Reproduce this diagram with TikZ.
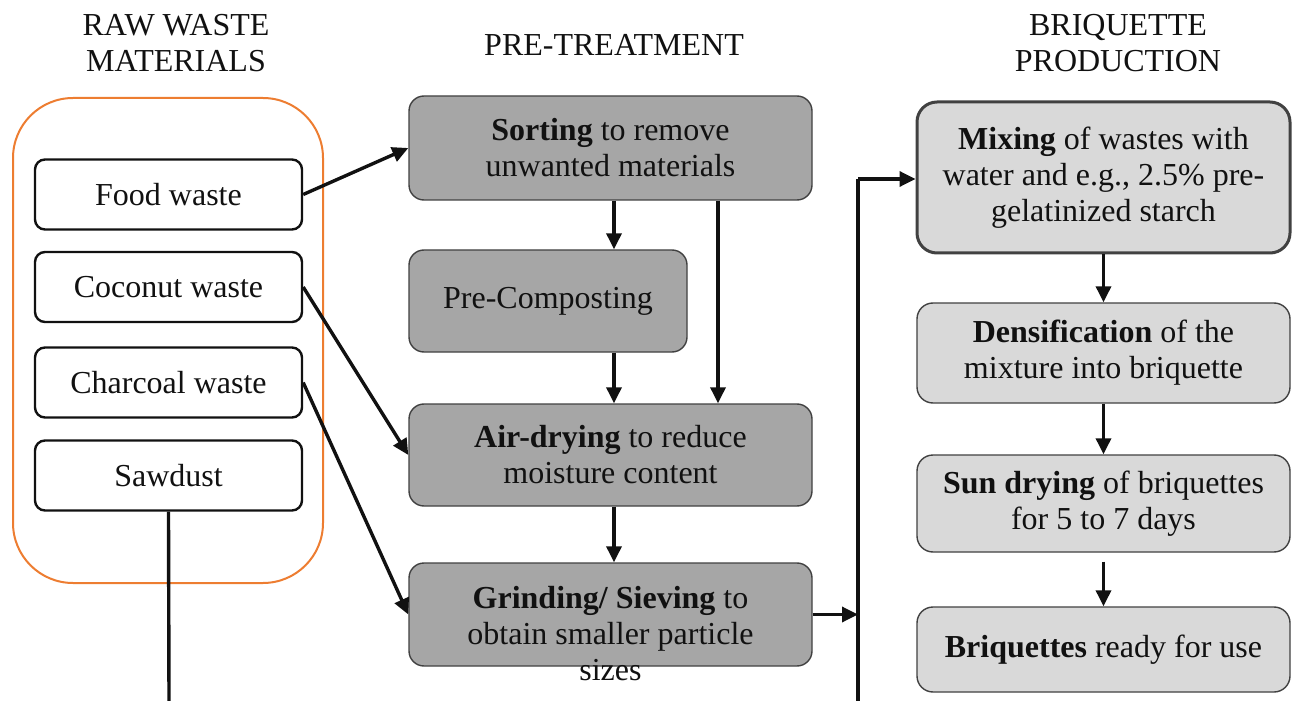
\documentclass[tikz,border=0pt]{standalone}
\usepackage{fontspec}
\setmainfont{Liberation Serif}
\usepackage{xcolor}
\usetikzlibrary{positioning,arrows.meta,calc}
\definecolor{ink}{HTML}{111111}
\definecolor{cOrange}{HTML}{ED7D31}
\definecolor{cDark}{HTML}{A6A6A6}
\definecolor{cLight}{HTML}{D9D9D9}
\tikzset{
  txt/.style  = {align=center, font=\fontsize{16}{18}\selectfont, text=ink},
  raw/.style  = {txt, draw=ink, fill=white, line width=1.2pt, rounded corners=5pt,
                 minimum width=133.5pt, minimum height=35pt, inner sep=0pt},
  pre/.style  = {txt, draw=ink!80, fill=cDark, line width=0.7pt, rounded corners=7.5pt,
                 minimum width=201.5pt, minimum height=51pt, inner sep=0pt},
  brq/.style  = {txt, draw=ink!80, fill=cLight, line width=0.7pt, rounded corners=8pt,
                 minimum width=186.5pt, minimum height=50pt, inner sep=0pt},
  hdr/.style  = {txt},
  arr/.style  = {-{Triangle[length=8pt,width=7.5pt]}, line width=1.7pt, draw=ink},
  lin/.style  = {line width=1.7pt, draw=ink},
}
\begin{document}
\begin{tikzpicture}[x=0.5pt, y=-0.5pt]
  \useasboundingbox (0,0) rectangle (1292,701);

  % headings
  \node[hdr] (h1) at (176,43) {RAW WASTE\\MATERIALS};
  \node[hdr] (h2) at (614,45) {PRE-TREATMENT};
  \node[hdr] (h3) at (1118,43) {BRIQUETTE\\PRODUCTION};

  % raw waste group
  \node[draw=cOrange, line width=1pt, rounded corners=30pt, minimum width=155pt,
        minimum height=242.5pt] (grp) at (168,340.5) {};
  \node[raw] (food) at (168.5,194.5) {Food waste};
  \node[raw] (coco) at (168.5,287) {Coconut waste};
  \node[raw] (coal) at (168.5,382.5) {Charcoal waste};
  \node[raw] (saw)  at (168.5,475.5) {Sawdust};

  % pre-treatment
  \node[pre, minimum height=52pt] (sort) at (610.5,148) {\textbf{Sorting} to remove\\unwanted materials};
  \node[pre, minimum width=139pt] (comp) at (548,301) {Pre-Composting};
  \node[pre] (air) at (610.5,455) {\textbf{Air-drying} to reduce\\moisture content};
  \node[pre, minimum height=51.5pt] (grind) at (610.5,614.5) {};
  \node[txt] (grindtxt) at (610.5,634) {\textbf{Grinding/ Sieving} to\\obtain smaller particle\\sizes};

  % briquette production
  \node[brq, minimum height=75.5pt, line width=1.5pt, rounded corners=10pt] (mix) at (1103.5,177.5)
    {\textbf{Mixing} of wastes with\\water and e.g., 2.5\% pre-\\gelatinized starch};
  \node[brq] (dens) at (1103.5,353) {\textbf{Densification} of the\\mixture into briquette};
  \node[brq, minimum height=48.5pt] (sun) at (1103.5,503.5) {\textbf{Sun drying} of briquettes\\for 5 to 7 days};
  \node[brq, minimum height=42.5pt] (ready) at (1103.5,649.5) {\textbf{Briquettes} ready for use};

  % connectors
  \coordinate (sawend) at (169,701);
  \coordinate (busbot) at (858,701);
  \coordinate (bustop) at (858,179);

  \draw[arr] (food.east) -- (sort.west);
  \draw[arr] (coco.east) -- (air.west);
  \draw[arr] (coal.east) -- (grind.west);
  \draw[lin] (saw.south) -- (sawend);

  \draw[arr] ($(sort.south)+(3.5,0)$) -- ($(comp.north)+(66,0)$);
  \draw[arr] ($(sort.south)+(107.5,0)$) -- ($(air.north)+(107.5,0)$);
  \draw[arr] ($(comp.south)+(66,0)$) -- ($(air.north)+(3.5,0)$);
  \draw[arr] ($(air.south)+(3.5,0)$) -- ($(grind.north)+(3.5,0)$);

  \draw[arr] (grind.east) -- (grind.east -| bustop);
  \draw[lin] (busbot) -- (bustop);
  \draw[arr] (bustop) -- (bustop -| mix.west);

  \draw[arr] (mix) -- (dens);
  \draw[arr] (dens) -- (sun);
  \draw[arr] ($(sun.south)+(0,9)$) -- (ready);
\end{tikzpicture}
\end{document}
